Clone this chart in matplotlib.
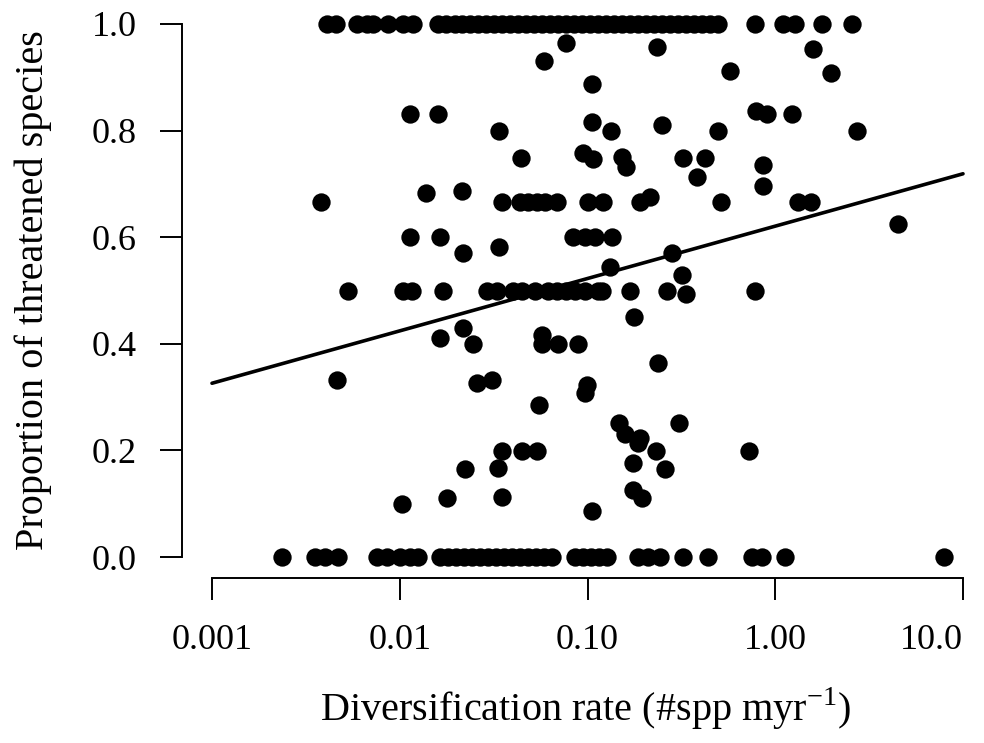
import matplotlib
matplotlib.use("Agg")
import matplotlib.pyplot as plt
import numpy as np

plt.rcParams['font.family'] = ['Liberation Serif', 'DejaVu Serif']
plt.rcParams['mathtext.fontset'] = 'custom'
plt.rcParams['mathtext.rm'] = 'Liberation Serif'

# ---- data (diversification rate, proportion threatened) ----
rate_one = [0.0041, 0.0046, 0.0059, 0.0067, 0.0072, 0.0087, 0.0104, 0.0118, 0.016,
            0.0176, 0.0197, 0.0215, 0.0237, 0.0261, 0.0288, 0.0318, 0.035, 0.0387,
            0.0426, 0.047, 0.0519, 0.0573, 0.0631, 0.0697, 0.0768, 0.0848, 0.0935,
            0.103, 0.114, 0.125, 0.138, 0.153, 0.168, 0.186, 0.205, 0.226, 0.249,
            0.275, 0.303, 0.335, 0.369, 0.407, 0.449, 0.496, 0.78, 1.10, 1.27, 1.77, 2.56]

rate_zero = [0.00236, 0.00354, 0.0040, 0.00469, 0.00756, 0.00855, 0.0100, 0.0113, 0.0125,
             0.0164, 0.0181, 0.0199, 0.0220, 0.0243, 0.0268, 0.0295, 0.0326, 0.0359,
             0.0396, 0.0437, 0.0482, 0.0532, 0.0587, 0.0647, 0.0858, 0.0946, 0.104,
             0.115, 0.127, 0.186, 0.210, 0.243, 0.323, 0.438, 0.752, 0.850, 1.13, 7.92]

rate_two_thirds = [0.00381, 0.035, 0.0437, 0.0482, 0.0538, 0.0594, 0.0688, 0.1006,
                   0.121, 0.190, 0.514, 1.32, 1.55]

rate_half = [0.0053, 0.0104, 0.0116, 0.0170, 0.0292, 0.033, 0.0401, 0.0448, 0.0525,
             0.0616, 0.0688, 0.0768, 0.0858, 0.097, 0.114, 0.119, 0.168, 0.265, 0.78]

rate_sixty = [0.0113, 0.0164, 0.0837, 0.097, 0.110, 0.135]

rate_forty = [0.0245, 0.0573, 0.0697, 0.089]

rate_other = [0.0768, 0.0587, 0.1057, 0.0113, 0.016, 0.106, 0.0338, 0.0442, 0.0946, 0.107,
              0.0138, 0.0215, 0.0217, 0.0338, 0.0217, 0.0164, 0.00463, 0.0258, 0.031,
              0.0994, 0.097, 0.0552, 4.51, 0.282, 0.132, 0.319, 0.177, 0.237, 0.235,
              1.59, 0.574, 1.98, 0.133, 0.249, 0.496, 2.73, 0.79, 0.904, 1.23, 0.153,
              0.160, 0.323, 0.423, 0.383, 0.86, 0.86, 0.0103, 0.0179, 0.035, 0.0223,
              0.0334, 0.035, 0.0448, 0.0538, 0.1057, 0.147, 0.158, 0.190, 0.186, 0.232,
              0.175, 0.259, 0.175, 0.195, 0.307, 0.725, 0.0573, 0.215, 0.335]
prop_other = [0.964, 0.931, 0.887, 0.831, 0.831, 0.816, 0.800, 0.749, 0.758, 0.747,
              0.683, 0.687, 0.571, 0.582, 0.430, 0.411, 0.332, 0.326, 0.332,
              0.323, 0.308, 0.285, 0.625, 0.571, 0.545, 0.529, 0.450, 0.364, 0.957,
              0.953, 0.912, 0.908, 0.800, 0.810, 0.800, 0.800, 0.837, 0.831, 0.831, 0.750,
              0.732, 0.749, 0.749, 0.713, 0.735, 0.696, 0.100, 0.111, 0.113, 0.165,
              0.167, 0.199, 0.199, 0.199, 0.086, 0.251, 0.231, 0.223, 0.214, 0.199,
              0.176, 0.165, 0.126, 0.111, 0.251, 0.199, 0.417, 0.675, 0.493]

fit_rate = [0.001, 10.0]
fit_prop = [0.326, 0.719]

x_ticks = [0.001, 0.01, 0.1, 1.0, 10.0]
x_ticklabels = ["0.001", "0.01", "0.10", "1.00", "10.0"]
y_ticks = [0.0, 0.2, 0.4, 0.6, 0.8, 1.0]
y_ticklabels = ["0.0", "0.2", "0.4", "0.6", "0.8", "1.0"]

# ---- figure ----
W, H = 984, 743
fig = plt.figure(figsize=(W / 100, H / 100), dpi=100)
left_px, right_px, bottom_px, top_px = 182, 975, 578, 3
ax = fig.add_axes([left_px / W, (H - bottom_px) / H,
                   (right_px - left_px) / W, (bottom_px - top_px) / H])

xs = np.concatenate([rate_one, rate_zero, rate_two_thirds, rate_half, rate_sixty,
                     rate_forty, rate_other])
ys = np.concatenate([np.full(len(rate_one), 1.0), np.full(len(rate_zero), 0.0),
                     np.full(len(rate_two_thirds), 2 / 3), np.full(len(rate_half), 0.5),
                     np.full(len(rate_sixty), 0.6), np.full(len(rate_forty), 0.4),
                     prop_other])

ax.plot(xs, ys, 'o', color='black', markersize=13.2, markeredgewidth=0, clip_on=False)
ax.plot(fit_rate, fit_prop, '-', color='black', linewidth=2.6, solid_capstyle='round')

ax.set_xscale('log')
ax.set_xlim(10 ** (-3 - 30 / 187.75), 10 ** (1 + 12 / 187.75))
ax.set_ylim(-21 / 533, 1 + 21 / 533)

for s in ['top', 'right']:
    ax.spines[s].set_visible(False)
ax.spines['left'].set_bounds(0, 1)
ax.spines['bottom'].set_bounds(0.001, 10)
for s in ['left', 'bottom']:
    ax.spines[s].set_linewidth(1.4)

ax.set_xticks(x_ticks)
ax.set_xticklabels(x_ticklabels)
ax.xaxis.set_minor_locator(matplotlib.ticker.NullLocator())
ax.set_yticks(y_ticks)
ax.set_yticklabels(y_ticklabels)
ax.tick_params(axis='both', direction='out', length=15.8, width=1.4, labelsize=26)
ax.tick_params(axis='x', pad=17)
ax.tick_params(axis='y', pad=17)
ax.get_xticklabels()[-1].set_horizontalalignment('right')

fig.text(586 / W, (H - 721) / H, 'Diversification rate (#spp myr$^{\\mathregular{-1}}$)',
         ha='center', va='baseline', fontsize=29)
fig.text(33 / W, (H - 290) / H, 'Proportion of threatened species', rotation=90,
         ha='center', va='center', fontsize=29)

fig.savefig('out.png', dpi=100)
